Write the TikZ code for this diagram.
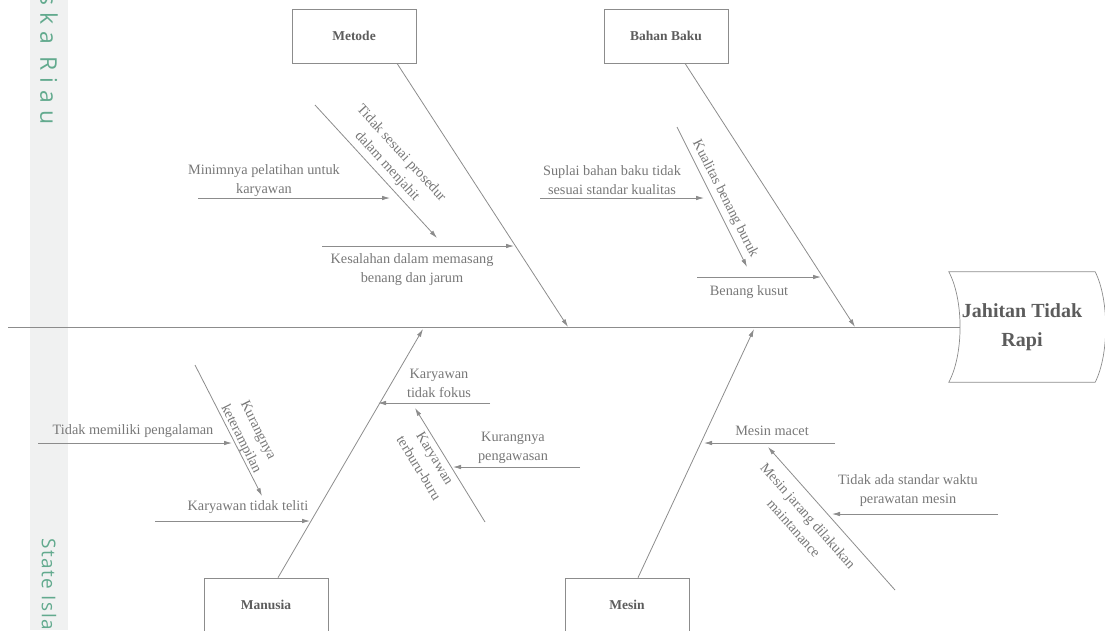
\documentclass[tikz,border=0pt]{standalone}
\usepackage{fontspec}
\setmainfont{Liberation Serif}
\newfontfamily\wmfont[LetterSpace=30]{Open Sans}
\newfontfamily\wmtight[LetterSpace=8]{Open Sans}
\usetikzlibrary{arrows.meta}

\definecolor{linegray}{HTML}{8C8C8C}
\definecolor{boxtext}{HTML}{5C5C5C}
\definecolor{labeltext}{HTML}{777777}
\definecolor{wmteal}{HTML}{62AA8E}
\definecolor{wmstrip}{HTML}{F0F1F1}

\begin{document}
\begin{tikzpicture}[x=1pt, y=-1pt,
  bone/.style={draw=linegray, line width=0.8pt, -{Latex[length=8pt,width=4.5pt]}},
  catbox/.style={draw=linegray, line width=0.7pt, minimum width=124pt,
    minimum height=54pt, text=boxtext, font=\fontsize{13.5}{16}\selectfont\bfseries},
  cause/.style={text=labeltext, align=center, inner sep=0pt,
    font=\fontsize{14.3}{19}\selectfont},
  wm/.style={text=wmteal, inner sep=0pt}
]
\useasboundingbox (0,0) rectangle (1105,630);
\fill[wmstrip] (30,0) rectangle (68,630);
\node (wmtop) [wm, rotate=-90, anchor=west, font=\wmfont\fontsize{23}{26}\selectfont]
  at (49,-6) {ska Riau};
\node (wmbottom) [wm, rotate=-90, anchor=west, font=\wmtight\fontsize{19}{22}\selectfont]
  at (49,538) {State Isla};

\node (metode) [catbox] at (354,36) {Metode};
\node (bahanbaku) [catbox] at (666,36) {Bahan Baku};
\node (manusia) [catbox] at (266,605) {Manusia};
\node (mesin) [catbox] at (627,605) {Mesin};
\node (jahitan) [minimum width=146pt, minimum height=110pt, inner sep=0pt,
  align=center, text=boxtext, font=\fontsize{20}{29}\selectfont\bfseries]
  at (1022,327) {Jahitan Tidak\\Rapi};
\draw[linegray, line width=0.7pt] (jahitan.north west)
  .. controls ([xshift=15pt,yshift=-28pt]jahitan.north west)
  and ([xshift=15pt,yshift=28pt]jahitan.south west) .. (jahitan.south west)
  -- (jahitan.south east)
  .. controls ([xshift=14pt,yshift=28pt]jahitan.south east)
  and ([xshift=14pt,yshift=-28pt]jahitan.north east) .. (jahitan.north east)
  -- cycle;

\coordinate (tail) at (8,327);
\coordinate (tmet) at (568,327);
\coordinate (tbb) at (855,327);
\coordinate (tman) at (423,329);
\coordinate (tmes) at (754,329);
\draw[linegray, line width=0.8pt] (tail) -- ([xshift=11pt]jahitan.west);
\draw[bone] ([xshift=43pt]metode.south) -- (tmet);
\draw[bone] ([xshift=19pt]bahanbaku.south) -- (tbb);
\draw[bone] ([xshift=12pt]manusia.north) -- (tman);
\draw[bone] ([xshift=11pt]mesin.north) -- (tmes);

\coordinate (a1s) at (198,198); \coordinate (a1e) at (390,198);
\coordinate (a2s) at (315,105); \coordinate (a2e) at (437,238);
\coordinate (a3s) at (322,246); \coordinate (a3e) at (514,246);
\draw[bone] (a1s) -- (a1e);
\draw[bone] (a2s) -- (a2e);
\draw[bone] (a3s) -- (a3e);
\node (minim) [cause] at (264,181) {Minimnya pelatihan untuk\\karyawan};
\node (tidaksesuai) [cause, rotate=-47.5] at (394,160) {Tidak sesuai prosedur\\dalam menjahit};
\node (kesalahan) [cause] at (412,270) {Kesalahan dalam memasang\\benang dan jarum};

\coordinate (b1s) at (540,198); \coordinate (b1e) at (704,198);
\coordinate (b2s) at (677,127); \coordinate (b2e) at (747,267);
\coordinate (b3s) at (697,277); \coordinate (b3e) at (821,277);
\draw[bone] (b1s) -- (b1e);
\draw[bone] (b2s) -- (b2e);
\draw[bone] (b3s) -- (b3e);
\node (suplai) [cause] at (612,180) {Suplai bahan baku tidak\\sesuai standar kualitas};
\node (kualitas) [cause, rotate=-63] at (725,199) {Kualitas benang buruk};
\node (kusut) [cause] at (749,292) {Benang kusut};

\coordinate (c1s) at (195,365); \coordinate (c1e) at (262,496);
\coordinate (c2s) at (38,443); \coordinate (c2e) at (232,443);
\coordinate (c3s) at (155,521); \coordinate (c3e) at (310,521);
\coordinate (c4s) at (490,403); \coordinate (c4e) at (378,403);
\coordinate (c5s) at (485,522); \coordinate (c5e) at (415,408);
\coordinate (c6s) at (580,467); \coordinate (c6e) at (453,467);
\draw[bone] (c1s) -- (c1e);
\draw[bone] (c2s) -- (c2e);
\draw[bone] (c3s) -- (c3e);
\draw[bone] (c4s) -- (c4e);
\draw[bone] (c5s) -- (c5e);
\draw[bone] (c6s) -- (c6e);
\node (keterampilan) [cause, rotate=-63.5] at (249,435) {Kurangnya\\keterampilan};
\node (pengalaman) [cause] at (133,431) {Tidak memiliki pengalaman};
\node (teliti) [cause] at (248,507) {Karyawan tidak teliti};
\node (fokus) [cause] at (439,383) {Karyawan\\tidak fokus};
\node (terburu) [cause, rotate=-58.7] at (427,463) {Karyawan\\terburu-buru};
\node (pengawasan) [cause] at (513,448) {Kurangnya\\pengawasan};

\coordinate (d1s) at (835,443); \coordinate (d1e) at (704,443);
\coordinate (d2s) at (895,590); \coordinate (d2e) at (768,447);
\coordinate (d3s) at (998,514); \coordinate (d3e) at (832,514);
\draw[bone] (d1s) -- (d1e);
\draw[bone] (d2s) -- (d2e);
\draw[bone] (d3s) -- (d3e);
\node (macet) [cause] at (772,431) {Mesin macet};
\node (jarang) [cause, rotate=-48.4] at (801,522) {Mesin jarang dilakukan\\maintanance};
\node (standar) [cause] at (908,491) {Tidak ada standar waktu\\perawatan mesin};
\end{tikzpicture}
\end{document}
